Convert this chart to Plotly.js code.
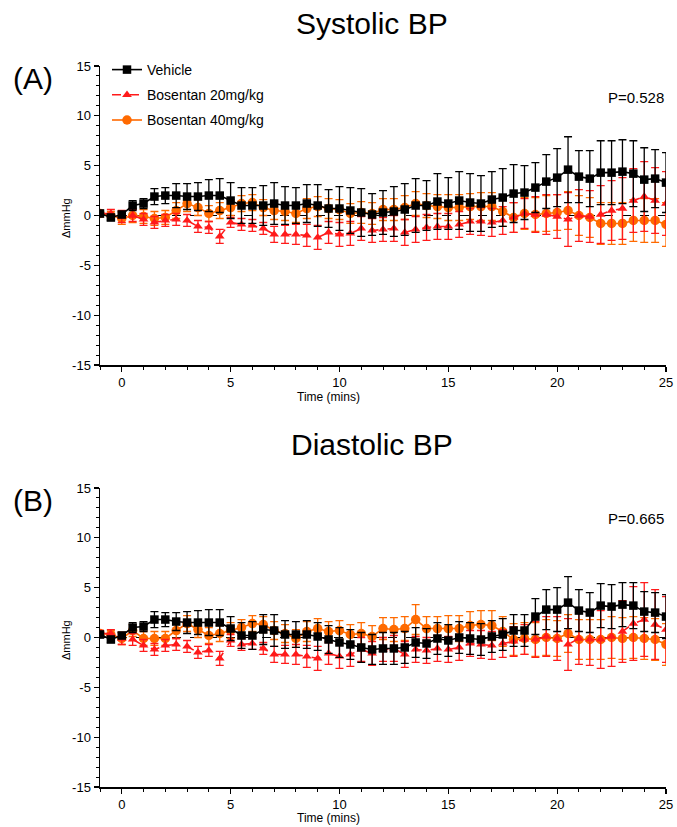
<!DOCTYPE html>
<html><head><meta charset="utf-8">
<script src="https://cdn.plot.ly/plotly-3.0.1.min.js"></script>
<style>html,body{margin:0;padding:0;background:#fff}#chart{width:677px;height:827px}</style>
</head><body><div id="chart"></div>
<script>
var timeMins = [-1,-0.5,0,0.5,1,1.5,2,2.5,3,3.5,4,4.5,5,5.5,6,6.5,7,7.5,8,8.5,9,9.5,10,10.5,11,11.5,12,12.5,13,13.5,14,14.5,15,15.5,16,16.5,17,17.5,18,18.5,19,19.5,20,20.5,21,21.5,22,22.5,23,23.5,24,24.5,25];

var seriesNames = ["Vehicle","Bosentan 20mg/kg","Bosentan 40mg/kg"];

// Systolic BP
var sysVehicle = [0.2,-0.2,0.1,1.0,1.2,1.9,2.0,2.0,1.9,1.9, 2.0,2.0,1.5,1.0,1.0,1.0,1.2,1.0,1.0,1.2, 1.0,0.7,0.7,0.5,0.3,0.1,0.3,0.4,0.6,1.0, 1.0,1.4,1.2,1.5,1.3,1.2,1.6,1.8,2.2,2.3, 2.8,3.4,3.8,4.6,3.9,3.7,4.3,4.3,4.4,4.2, 3.6,3.7,3.3];
var sysVehicleSem = [0.3,0.3,0.3,0.5,0.5,0.8,0.8,1.2,1.3,1.4, 1.6,1.7,1.8,1.8,1.8,2.0,2.1,1.9,1.8,1.9, 2.1,1.9,2.2,2.3,2.4,2.1,2.2,2.5,2.6,2.7, 2.5,2.8,2.6,2.9,2.9,2.8,2.8,2.9,2.9,2.7, 2.5,2.7,2.9,3.3,2.6,2.8,3.2,3.2,3.2,3.3, 3.2,2.9,3.0];
var sysB20 = [0.2,0.2,-0.1,0.0,-0.4,-0.7,-0.5,-0.4,-0.5,-1.1, -1.2,-2.1,-0.7,-0.9,-1.0,-1.3,-1.9,-1.9,-1.9,-2.0, -2.2,-1.7,-1.9,-1.8,-1.3,-1.5,-1.4,-1.3,-1.7,-1.4, -1.2,-1.1,-1.1,-0.9,-0.6,-0.6,-0.7,-0.5,-0.2,0.2, 0.1,0.1,-0.1,-0.4,0.0,-0.1,0.1,0.5,0.7,1.5, 1.9,1.5,1.2];
var sysB20Sem = [0.3,0.4,0.6,0.6,0.6,0.6,0.6,0.6,0.6,0.6, 0.6,0.7,0.5,0.6,0.6,0.6,0.8,0.9,1.0,1.1, 1.2,1.1,1.2,1.2,1.2,1.2,1.2,1.3,1.3,1.3, 1.3,1.3,1.3,1.3,1.3,1.4,1.4,1.4,1.5,1.5, 1.8,2.0,2.2,2.7,2.6,2.6,2.9,3.0,3.1,3.2, 3.5,3.3,3.2];
var sysB40 = [0.2,0.0,-0.3,0.0,-0.1,-0.3,-0.2,0.5,1.2,0.8, 0.2,0.5,0.8,1.2,1.3,0.8,0.5,0.4,0.2,0.7, 0.9,0.7,0.6,0.2,0.3,0.2,0.6,0.6,0.8,1.2, 1.0,0.9,0.8,0.8,0.9,0.9,0.9,0.4,-0.2,0.2, 0.1,0.2,0.3,0.5,0.0,-0.2,-0.8,-0.8,-0.8,-0.5, -0.5,-0.5,-0.9];
var sysB40Sem = [0.3,0.4,0.6,0.7,0.7,0.7,0.7,0.8,0.8,0.8, 0.8,0.8,0.8,0.8,0.8,0.8,0.9,0.9,0.9,1.0, 1.0,1.0,1.0,1.0,1.1,1.1,1.1,1.1,1.2,1.2, 1.2,1.2,1.3,1.3,1.3,1.4,1.4,1.5,1.5,1.6, 1.7,1.8,1.8,1.9,2.0,2.0,2.1,2.1,2.1,2.1, 2.2,2.2,2.2];

// Diastolic BP
var diaVehicle = [0.3,-0.2,0.2,1.0,1.1,1.8,1.8,1.6,1.5,1.5, 1.5,1.5,0.9,0.2,0.2,0.8,0.7,0.3,0.3,0.3, 0.1,-0.2,-0.5,-0.7,-1.0,-1.2,-1.1,-1.1,-1.0,-0.5, -0.6,-0.1,-0.3,0.0,-0.1,-0.2,0.1,0.3,0.7,0.7, 2.1,2.8,2.8,3.5,2.7,2.5,3.2,3.1,3.3,3.2, 2.6,2.5,2.1];
var diaVehicleSem = [0.3,0.3,0.3,0.5,0.5,0.8,0.7,0.9,1.1,1.2, 1.3,1.3,1.2,1.3,1.4,1.5,1.6,1.4,1.3,1.4, 1.4,1.4,1.5,1.5,1.5,1.5,1.6,1.6,1.6,1.5, 1.5,1.6,1.6,1.6,1.6,1.6,1.6,1.6,1.6,1.6, 1.8,2.0,2.2,2.6,2.1,2.0,2.2,2.2,2.2,2.3, 2.0,2.0,2.2];
var diaB20 = [0.4,0.4,-0.1,-0.2,-0.8,-1.2,-0.8,-0.7,-0.9,-1.5, -1.3,-2.1,-0.3,-0.7,-0.6,-1.1,-1.7,-1.7,-1.7,-1.9, -2.1,-1.6,-1.9,-1.7,-1.2,-1.6,-1.2,-1.1,-1.7,-1.2, -1.3,-1.1,-1.2,-1.0,-0.6,-0.7,-0.8,-0.6,-0.4,-0.2, -0.2,0.1,-0.1,-0.7,-0.1,-0.2,-0.2,0.1,0.6,1.4, 1.8,1.3,0.8];
var diaB20Sem = [0.3,0.4,0.6,0.6,0.6,0.6,0.6,0.6,0.6,0.6, 0.6,0.7,0.6,0.6,0.6,0.6,0.8,0.9,1.0,1.1, 1.2,1.1,1.2,1.2,1.2,1.2,1.2,1.3,1.3,1.3, 1.3,1.3,1.3,1.3,1.3,1.4,1.4,1.4,1.5,1.5, 1.8,2.0,2.2,2.6,2.6,2.6,2.9,3.0,3.1,3.7, 3.7,3.5,3.3];
var diaB40 = [0.4,0.3,-0.1,0.7,-0.1,-0.1,-0.1,0.7,1.4,0.8, 0.2,0.4,0.7,1.0,1.4,1.3,0.7,0.4,-0.1,0.6, 0.9,0.6,0.7,0.3,0.4,0.1,0.9,0.8,0.9,1.8, 0.9,0.9,0.9,0.9,1.2,1.3,1.2,0.6,-0.2,-0.1, -0.2,0.0,-0.1,0.4,-0.2,-0.2,-0.2,0.0,-0.1,0.0, -0.1,-0.2,-0.7];
var diaB40Sem = [0.3,0.4,0.6,0.6,0.7,0.7,0.7,0.8,0.8,0.8, 0.8,0.8,0.8,0.8,0.8,0.8,0.9,0.9,0.9,1.0, 1.0,1.0,1.0,1.0,1.1,1.1,1.1,1.2,1.2,1.5, 1.2,1.2,1.3,1.3,1.4,1.4,1.5,1.5,1.6,1.6, 1.7,1.8,1.8,1.9,2.0,2.0,2.0,2.1,2.1,2.1, 2.1,2.1,2.1];

var yTickVals = [15,10,5,0,-5,-10,-15];
var yTickText = ["15","10","5","0","-5","-10","-15"];
var xTickVals = [0,5,10,15,20,25];
var xTickText = ["0","5","10","15","20","25"];
var pValues = ["P=0.528","P=0.665"];

var W = 677, H = 827;
function px(x){return x/W;}
function py(y){return 1 - y/H;}

var styles = [
  {color:'#000000', symbol:'square', size:8.5, dash:'solid', rank:1},
  {color:'#ff1a1a', symbol:'triangle-up', size:8.5, dash:'dash', rank:2},
  {color:'#ff6a00', symbol:'circle', size:9.5, dash:'solid', rank:3}
];

function mk(idx, y, err, xa, ya, showLeg){
  var s = styles[idx];
  return {
    x: timeMins, y: y, xaxis: xa, yaxis: ya, type:'scatter', mode:'lines+markers',
    name: seriesNames[idx], showlegend: showLeg, legendrank: s.rank, legendgroup: 'g'+idx,
    line:{color:s.color, width:1.6, dash:s.dash},
    marker:{color:s.color, symbol:s.symbol, size:s.size},
    error_y:{type:'data', array:err, visible:true, color:s.color, thickness:1.3, width:4}
  };
}

// draw order: orange, red, black on top
var data = [
  mk(2, sysB40, sysB40Sem, 'x', 'y', true),
  mk(1, sysB20, sysB20Sem, 'x', 'y', true),
  mk(0, sysVehicle, sysVehicleSem, 'x', 'y', true),
  mk(2, diaB40, diaB40Sem, 'x2', 'y2', false),
  mk(1, diaB20, diaB20Sem, 'x2', 'y2', false),
  mk(0, diaVehicle, diaVehicleSem, 'x2', 'y2', false)
];

var xBase = {
  range:[-1,25], showline:true, linecolor:'#000', linewidth:1.5, mirror:false,
  showgrid:false, zeroline:false, ticks:'outside', ticklen:5, tickwidth:1.2, tickcolor:'#000',
  tickmode:'array', tickvals:xTickVals, ticktext:xTickText,
  tickfont:{family:'Liberation Sans, Arial, sans-serif', size:13, color:'#000'},
  minor:{ticks:'outside', ticklen:3, tickwidth:1, tickcolor:'#000', tickmode:'linear', tick0:0, dtick:1, showgrid:false},
  domain:[px(100), px(666)], fixedrange:true
};
var yBase = {
  range:[-15,15], showline:true, linecolor:'#000', linewidth:1.5,
  showgrid:false, zeroline:false, ticks:'outside', ticklen:5, tickwidth:1.2, tickcolor:'#000',
  tickmode:'array', tickvals:yTickVals, ticktext:yTickText,
  tickfont:{family:'Liberation Sans, Arial, sans-serif', size:13, color:'#000'},
  minor:{ticks:'outside', ticklen:3, tickwidth:1, tickcolor:'#000', tickmode:'linear', tick0:0, dtick:1, showgrid:false},
  fixedrange:true
};

function clone(o){return JSON.parse(JSON.stringify(o));}
var xa1 = clone(xBase); xa1.anchor='y';
var xa2 = clone(xBase); xa2.anchor='y2';
var ya1 = clone(yBase); ya1.anchor='x'; ya1.domain=[py(365), py(66)];
var ya2 = clone(yBase); ya2.anchor='x2'; ya2.domain=[py(787), py(488)];

var F = 'Liberation Sans, Arial, sans-serif';
var annotations = [
  {text:'Systolic BP', x:px(372), y:py(23), xref:'paper', yref:'paper', showarrow:false, font:{family:F, size:30, color:'#000'}, xanchor:'center', yanchor:'middle'},
  {text:'(A)', x:px(33), y:py(78), xref:'paper', yref:'paper', showarrow:false, font:{family:F, size:30, color:'#000'}, xanchor:'center', yanchor:'middle'},
  {text:'Diastolic BP', x:px(372), y:py(445), xref:'paper', yref:'paper', showarrow:false, font:{family:F, size:30, color:'#000'}, xanchor:'center', yanchor:'middle'},
  {text:'(B)', x:px(33), y:py(500), xref:'paper', yref:'paper', showarrow:false, font:{family:F, size:30, color:'#000'}, xanchor:'center', yanchor:'middle'},
  {text:'Time (mins)', x:px(328), y:py(397), xref:'paper', yref:'paper', showarrow:false, font:{family:F, size:12, color:'#000'}, xanchor:'center', yanchor:'middle'},
  {text:'Time (mins)', x:px(328), y:py(818), xref:'paper', yref:'paper', showarrow:false, font:{family:F, size:12, color:'#000'}, xanchor:'center', yanchor:'middle'},
  {text:'ΔmmHg', x:px(66), y:py(218), xref:'paper', yref:'paper', showarrow:false, textangle:-90, font:{family:F, size:11, color:'#000'}, xanchor:'center', yanchor:'middle'},
  {text:'ΔmmHg', x:px(66), y:py(640), xref:'paper', yref:'paper', showarrow:false, textangle:-90, font:{family:F, size:11, color:'#000'}, xanchor:'center', yanchor:'middle'},
  {text:pValues[0], x:px(666), y:py(97), xref:'paper', yref:'paper', showarrow:false, font:{family:F, size:15, color:'#000'}, xanchor:'right', yanchor:'middle'},
  {text:pValues[1], x:px(666), y:py(518), xref:'paper', yref:'paper', showarrow:false, font:{family:F, size:15, color:'#000'}, xanchor:'right', yanchor:'middle'}
];

var shapes = [
  {type:'line', xref:'x domain', yref:'y', x0:0, x1:1, y0:0, y1:0, line:{color:'#000', width:1.2, dash:'dash'}, layer:'below'},
  {type:'line', xref:'x2 domain', yref:'y2', x0:0, x1:1, y0:0, y1:0, line:{color:'#000', width:1.2, dash:'dash'}, layer:'below'}
];

var layout = {
  width:W, height:H, margin:{l:0,r:0,t:0,b:0,pad:0},
  paper_bgcolor:'#fff', plot_bgcolor:'#fff',
  xaxis:xa1, yaxis:ya1, xaxis2:xa2, yaxis2:ya2,
  showlegend:true,
  legend:{x:px(107), y:py(54), xanchor:'left', yanchor:'top', bgcolor:'rgba(0,0,0,0)',
    font:{family:F, size:14, color:'#000'}, tracegroupgap:4, traceorder:'grouped', itemwidth:30},
  annotations:annotations, shapes:shapes,
  font:{family:F, color:'#000'}
};

Plotly.newPlot('chart', data, layout, {displayModeBar:false, staticPlot:true});
</script>
</body></html>
